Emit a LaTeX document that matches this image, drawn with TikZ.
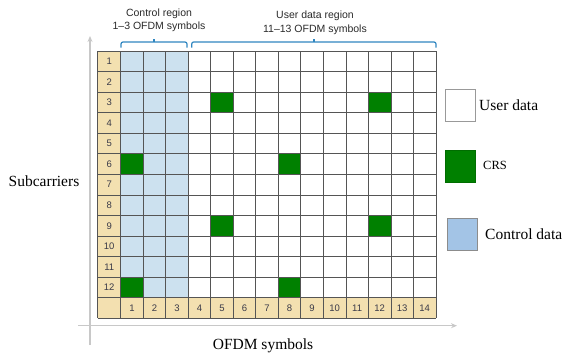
\documentclass[tikz,border=0pt]{standalone}
\usepackage{fontspec}
\setmainfont{Liberation Serif}
\newfontfamily\sansf[Ligatures=TeX]{Liberation Sans}
\usetikzlibrary{arrows.meta}
\definecolor{hdr}{HTML}{F3E0B0}
\definecolor{ctrl}{HTML}{CCE1EF}
\definecolor{crs}{HTML}{008000}
\definecolor{gridc}{HTML}{555555}
\definecolor{brc}{HTML}{2F86C0}
\definecolor{legblue}{HTML}{A3C4E6}
\definecolor{numc}{HTML}{3A3A48}
\definecolor{axc}{HTML}{C8C8C8}
\definecolor{toptxt}{HTML}{2A2A2A}
\tikzset{
  numlbl/.style={font=\sansf\fontsize{9.5}{10}\selectfont, text=numc, inner sep=0pt},
  toplbl/.style={font=\sansf\fontsize{10.5}{12}\selectfont, text=toptxt, inner sep=0pt},
  biglbl/.style={font=\fontsize{15.5}{18}\selectfont, inner sep=0pt},
  smalllbl/.style={font=\fontsize{12.5}{14}\selectfont, inner sep=0pt},
  gridline/.style={draw=gridc, line width=0.8pt},
  bracepath/.style={draw=brc, line width=1.2pt, rounded corners=2pt},
  axisline/.style={draw=axc, line width=1.5pt, -{Stealth[length=6pt,width=5pt]}},
  legbox/.style={minimum width=30pt, minimum height=32pt, inner sep=0pt, line width=1pt}
}
\begin{document}
\begin{tikzpicture}[x=1pt,y=-1pt]
\useasboundingbox (0,0) rectangle (569,356);
\def\gx{97.7}\def\cx{120.7}\def\cw{22.52}\def\gy{51}\def\rh{20.56}
\def\gr{436}\def\rb{297.72}\def\gb{318.28}
% axes
\coordinate (vaxA) at (90,345);
\coordinate (vaxB) at (90,36);
\coordinate (haxA) at (78,325.7);
\coordinate (haxB) at (457,325.7);
\draw[axisline] (vaxA) -- (vaxB);
\draw[axisline] (haxA) -- (haxB);
% fills
\fill[hdr] (\gx,\gy) rectangle (\cx,\gb);
\fill[hdr] (\gx,\rb) rectangle (\gr,\gb);
\fill[ctrl] (\cx,\gy) rectangle (188.26,\rb);
\foreach \r/\c in {3/5,3/12,6/1,6/8,9/5,9/12,12/1,12/8}{
  \pgfmathsetmacro\xa{\cx+(\c-1)*\cw}
  \pgfmathsetmacro\ya{\gy+(\r-1)*\rh}
  \fill[crs] (\xa,\ya) rectangle ++(\cw,\rh);
}
% grid
\foreach \k in {0,...,13}{
  \pgfmathsetmacro\yy{\gy+\k*\rh}
  \draw[gridline] (\gx,\yy) -- (\gr,\yy);
}
\draw[gridline] (\gx,\gy) -- (\gx,\gb);
\foreach \k in {0,...,14}{
  \pgfmathsetmacro\xx{\cx+\k*\cw}
  \draw[gridline] (\xx,\gy) -- (\xx,\gb);
}
\draw[gridc, line width=1.4pt] (188.26,\gy) -- (188.26,\gb);
% numbers
\foreach \r in {1,...,12}{
  \pgfmathsetmacro\yy{\gy+(\r-0.5)*\rh}
  \node[numlbl] (row\r) at (109.2,\yy) {\r};
}
\foreach \c in {1,...,14}{
  \pgfmathsetmacro\xx{\cx+(\c-0.5)*\cw}
  \node[numlbl] (col\c) at (\xx,308) {\c};
}
% braces
\coordinate (cbL) at (121,47.5);
\coordinate (cbR) at (187,47.5);
\coordinate (cbM) at (154,38.5);
\draw[bracepath] (cbL) -- (121,42) -- (187,42) -- (cbR);
\draw[draw=brc, line width=1.2pt] (154,42) -- (cbM);
\coordinate (ubL) at (191.7,47.5);
\coordinate (ubR) at (436,47.5);
\coordinate (ubM) at (314,38.5);
\draw[bracepath] (ubL) -- (191.7,42) -- (436,42) -- (ubR);
\draw[draw=brc, line width=1.2pt] (314,42) -- (ubM);
\node[toplbl] (ctrlA) at (159,14) {Control region};
\node[toplbl] (ctrlB) at (159,27) {1--3 OFDM symbols};
\node[toplbl] (userA) at (315,16) {User data region};
\node[toplbl] (userB) at (315,29.5) {11--13 OFDM symbols};
% legend
\node[legbox, draw=black!40, fill=white] (legU) at (460,105) {};
\node[legbox, draw=crs!85!black, fill=crs] (legC) at (460.3,166) {};
\node[legbox, draw=black!45, fill=legblue] (legK) at (462.7,234) {};
\node[biglbl, anchor=west] (legUt) at (479,105) {User data};
\node[smalllbl, anchor=west] (legCt) at (483,165) {CRS};
\node[biglbl, anchor=west] (legKt) at (485,234) {Control data};
% axis titles
\node[biglbl] (subc) at (44,181) {Subcarriers};
\node[biglbl] (ofdm) at (263,346) {OFDM symbols};
\end{tikzpicture}
\end{document}
